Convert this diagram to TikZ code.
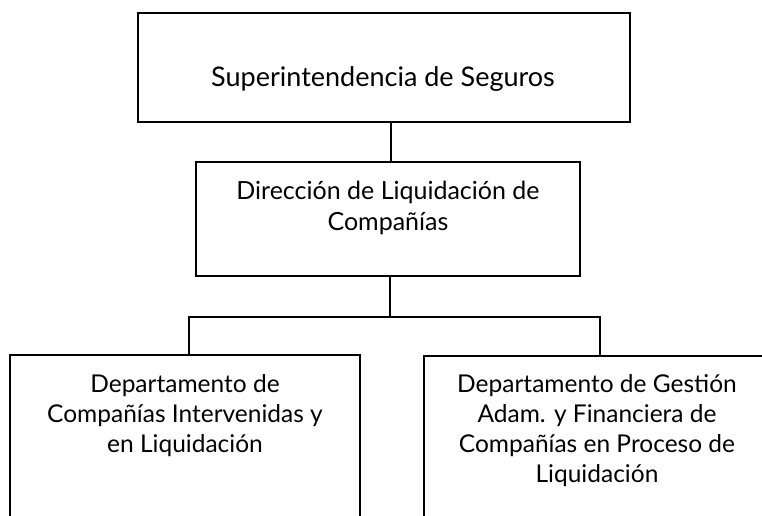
\documentclass[tikz,border=0pt]{standalone}
\usepackage{fontspec}
\setmainfont{Lato}
\begin{document}
\begin{tikzpicture}[x=1pt,y=-1pt,
  box/.style={draw,line width=1.6pt,rectangle,inner sep=0pt},
  conn/.style={line width=1.6pt},
  big/.style={font=\fontsize{27}{30.5}\selectfont,align=center,anchor=base,inner sep=0pt},
  mid/.style={font=\fontsize{25}{30.5}\selectfont,align=center,anchor=base,inner sep=0pt},
  small/.style={font=\fontsize{24.5}{30}\selectfont,align=center,anchor=base,inner sep=0pt}]
\useasboundingbox (0,0) rectangle (762,516);
\clip (0,0) rectangle (762,516);
\fill[white] (0,0) rectangle (762,516);
\node[box,minimum width=492pt,minimum height=109pt] (top) at (384,67.5) {};
\node[box,minimum width=384pt,minimum height=114pt] (dir) at (388,219) {};
\node[box,minimum width=350pt,minimum height=205pt] (left) at (185,457.5) {};
\node[box,minimum width=346pt,minimum height=204pt] (right) at (597,458) {};
\node[big] (ttop) at (383,87) {Superintendencia de Seguros};
\node[mid] (tdir) at (388,230) {Dirección de Liquidación de\\Compañías};
\node[small] (tleft) at (185,452) {Departamento de\\Compañías Intervenidas y\\en Liquidación};
\node[small] (tright) at (597,482) {Departamento de Gestión\\Adam. y Financiera de\\Compañías en Proceso de\\Liquidación};
\coordinate (bus) at (390,317);
\draw[conn] ([xshift=3pt]dir.north |- top.south) -- ([xshift=3pt]dir.north);
\draw[conn] ([xshift=2pt]dir.south) -- (bus);
\draw[conn] ([xshift=4pt]left.north) |- (bus) -| ([xshift=3pt]right.north);
\end{tikzpicture}
\end{document}
